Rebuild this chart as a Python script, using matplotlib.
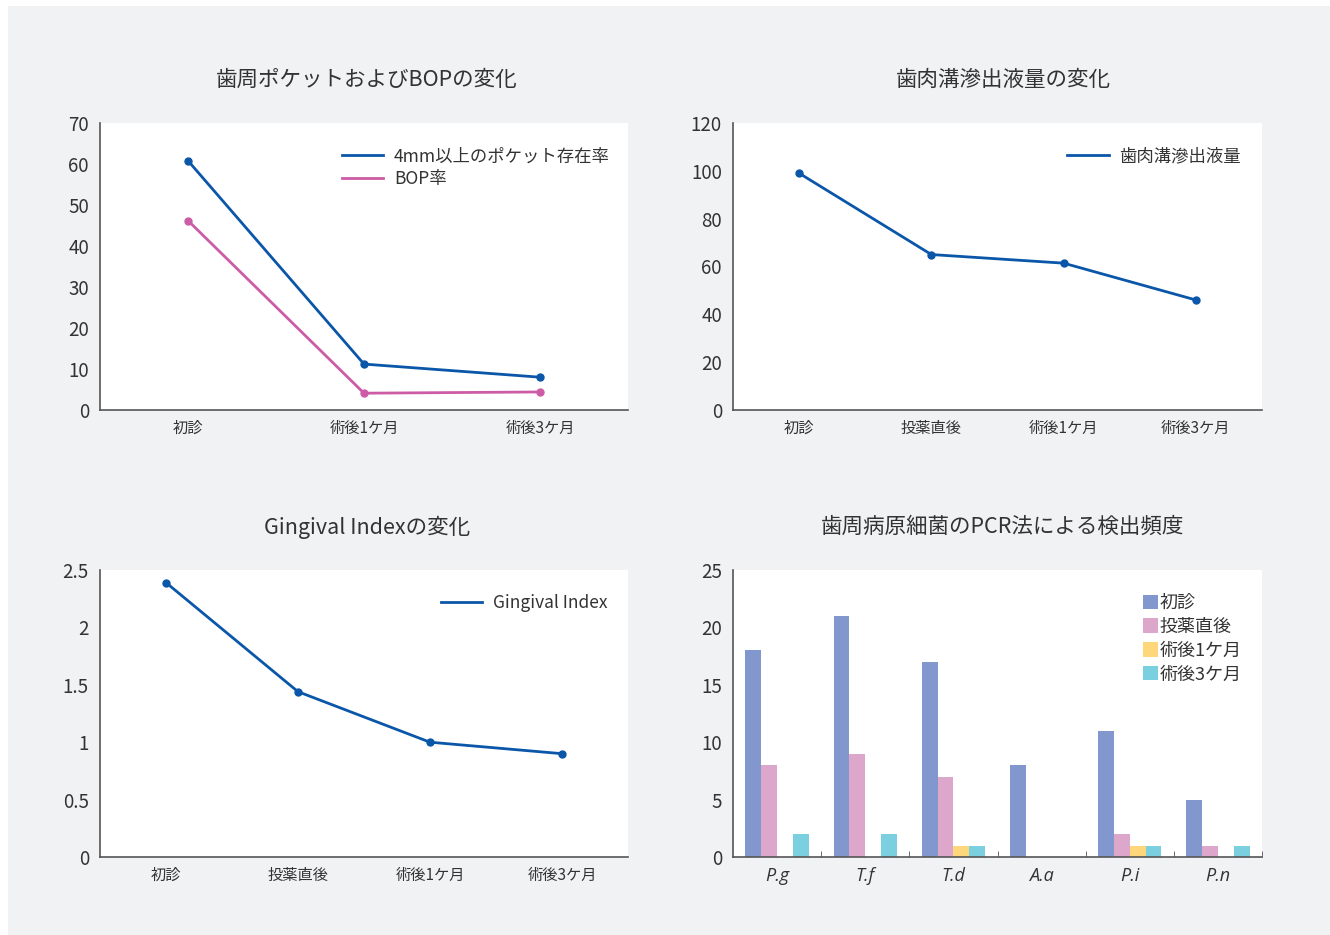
import matplotlib
matplotlib.use("Agg")
import matplotlib.pyplot as plt
from matplotlib.patches import Rectangle, Patch
from matplotlib.lines import Line2D
import numpy as np

plt.rcParams['font.family'] = ['Noto Sans CJK JP', 'DejaVu Sans']

# data
pocket_cats = ['初診', '術後1ケ月', '術後3ケ月']
pocket_4mm = [60.8, 11.2, 8.0]
bop = [46.2, 4.1, 4.4]

time_cats = ['初診', '投薬直後', '術後1ケ月', '術後3ケ月']
gcf = [99, 65, 61.4, 46]
gingival = [2.39, 1.44, 1.0, 0.9]

bact = ['P.g', 'T.f', 'T.d', 'A.a', 'P.i', 'P.n']
pcr_first = [18, 21, 17, 8, 11, 5]
pcr_after = [8, 9, 7, 0, 2, 1]
pcr_1m = [0, 0, 1, 0, 1, 0]
pcr_3m = [2, 2, 1, 0, 1, 1]

BG = '#f1f2f4'
BLUE = '#0a56a8'
PINK = '#cc5ca6'
TXT = '#333333'
bar_cols = ['#8197cd', '#dda7cb', '#fdd77a', '#7bd0df']

fig = plt.figure(figsize=(13.3, 9.35), dpi=100)
fig.patch.set_facecolor('white')
fig.patches.append(Rectangle((8 / 1330, 0), 1 - 8 / 1330, 1 - 6 / 935,
                             transform=fig.transFigure, facecolor=BG,
                             edgecolor='none', zorder=-10))

W, H = 1330, 935


def make_ax(x0, y0, x1, y1):
    ax = fig.add_axes([x0 / W, 1 - y1 / H, (x1 - x0) / W, (y1 - y0) / H])
    ax.set_facecolor('white')
    for s in ['top', 'right']:
        ax.spines[s].set_visible(False)
    for s in ['left', 'bottom']:
        ax.spines[s].set_color('#555555')
        ax.spines[s].set_linewidth(1.2)
    ax.tick_params(axis='y', length=0, labelsize=13.5, colors=TXT, pad=8)
    ax.tick_params(axis='x', length=0, labelsize=11, colors=TXT, pad=7)
    return ax


def title(x, y, s):
    fig.text(x / W, 1 - y / H, s, ha='center', va='center', fontsize=15.5, color=TXT)


def line_legend(ax, labels, colors, anchor):
    handles = [Line2D([], [], color=c, lw=2) for c in colors]
    ax.legend(handles, labels, frameon=False, fontsize=12.5, labelcolor=TXT,
              loc='upper right', bbox_to_anchor=anchor, handlelength=2.4,
              handletextpad=0.6, labelspacing=0.3)


# panel 1
ax1 = make_ax(100, 123, 628, 410)
x = np.arange(len(pocket_cats))
ax1.plot(x, pocket_4mm, color=BLUE, lw=2, marker='o', ms=5)
ax1.plot(x, bop, color=PINK, lw=2, marker='o', ms=5)
ax1.set_xlim(-0.5, 2.5)
ax1.set_ylim(0, 70)
ax1.set_yticks(range(0, 71, 10))
ax1.set_xticks(x)
ax1.set_xticklabels(pocket_cats)
line_legend(ax1, ['4mm以上のポケット存在率', 'BOP率'], [BLUE, PINK], (0.995, 0.97))
title(367, 80, '歯周ポケットおよびBOPの変化')

# panel 2
ax2 = make_ax(733, 123, 1262, 410)
x = np.arange(len(time_cats))
ax2.plot(x, gcf, color=BLUE, lw=2, marker='o', ms=5)
ax2.set_xlim(-0.5, 3.5)
ax2.set_ylim(0, 120)
ax2.set_yticks(range(0, 121, 20))
ax2.set_xticks(x)
ax2.set_xticklabels(time_cats)
line_legend(ax2, ['歯肉溝滲出液量'], [BLUE], (0.99, 0.97))
title(1003, 80, '歯肉溝滲出液量の変化')

# panel 3
ax3 = make_ax(100, 570, 628, 857)
ax3.plot(x, gingival, color=BLUE, lw=2, marker='o', ms=5)
ax3.set_xlim(-0.5, 3.5)
ax3.set_ylim(0, 2.5)
ax3.set_yticks([0, 0.5, 1, 1.5, 2, 2.5])
ax3.set_yticklabels(['0', '0.5', '1', '1.5', '2', '2.5'])
ax3.set_xticks(x)
ax3.set_xticklabels(time_cats)
line_legend(ax3, ['Gingival Index'], [BLUE], (0.99, 0.97))
title(367, 527, 'Gingival Indexの変化')

# panel 4
ax4 = make_ax(733, 570, 1262, 857)
xb = np.arange(len(bact))
bw = 0.18
series = [pcr_first, pcr_after, pcr_1m, pcr_3m]
names = time_cats
for i, (vals, c) in enumerate(zip(series, bar_cols)):
    ax4.bar(xb + (i - 1.5) * bw, vals, width=bw, color=c)
ax4.set_xlim(-0.5, len(bact) - 0.5)
ax4.set_ylim(0, 25)
ax4.set_yticks(range(0, 26, 5))
ax4.set_xticks(xb)
ax4.set_xticklabels(bact, style='italic', fontsize=13, family=['Open Sans', 'DejaVu Sans'])
ax4.set_xticks(np.arange(0.5, len(bact), 1), minor=True)
ax4.tick_params(axis='x', which='minor', direction='in', length=4, color='#555555')
handles = [Patch(facecolor=c, edgecolor='none') for c in bar_cols]
ax4.legend(handles, names, frameon=False, fontsize=13, labelcolor=TXT,
           loc='upper right', bbox_to_anchor=(0.985, 0.96),
           handlelength=0.8, handleheight=0.85, handletextpad=0.1,
           labelspacing=0.32, borderpad=0.2)
title(1003, 527, '歯周病原細菌のPCR法による検出頻度')

fig.savefig('out.png', dpi=100, facecolor=fig.get_facecolor())
